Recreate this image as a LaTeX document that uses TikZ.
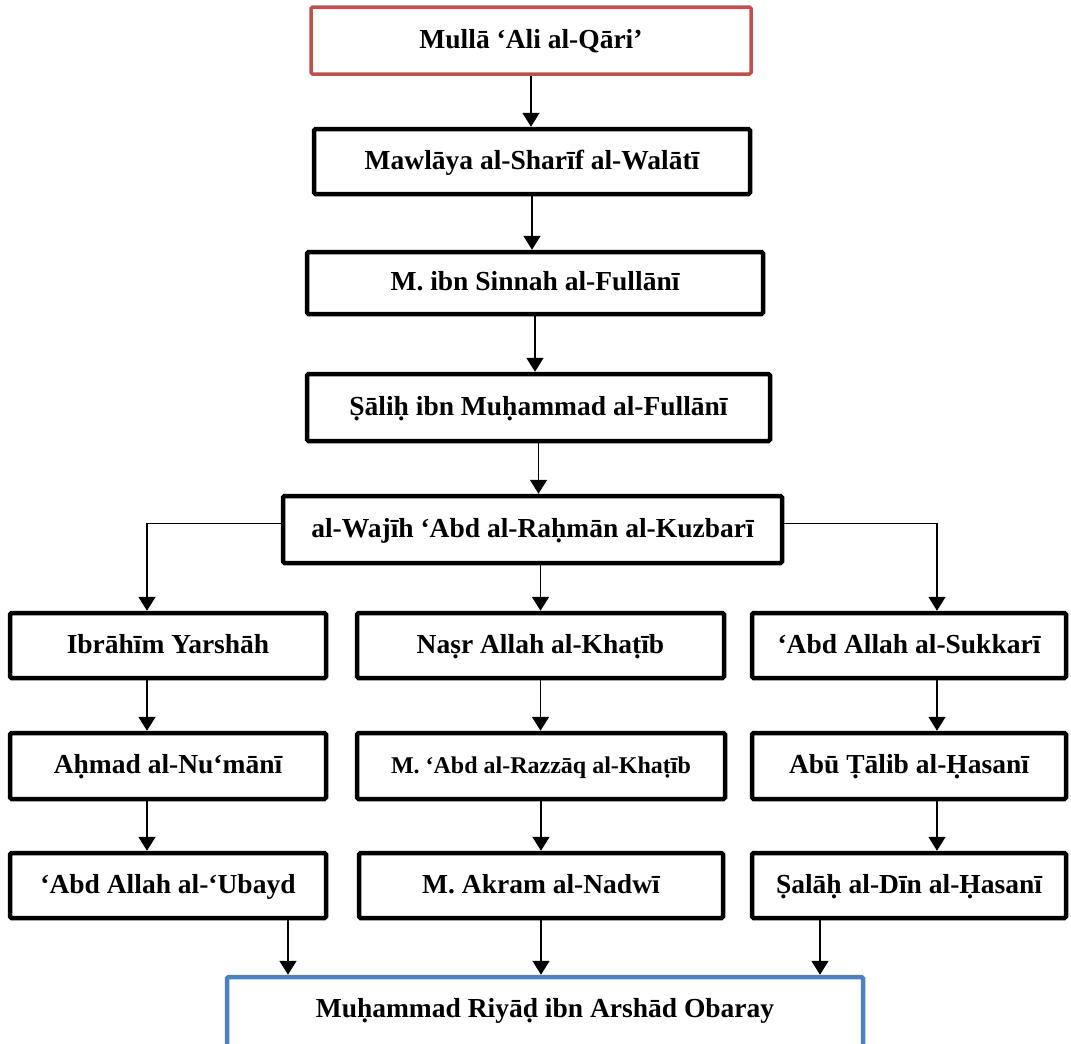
\documentclass[tikz,border=0pt]{standalone}
\usepackage{fontspec}
\setmainfont{Liberation Serif}
\usetikzlibrary{arrows.meta}
\definecolor{isnadred}{RGB}{192,80,77}
\definecolor{isnadblue}{RGB}{79,129,189}
\begin{document}
\begin{tikzpicture}[x=1pt, y=-1pt,
	shaykh/.style={draw, line width=4.5pt, rounded corners=1.5pt, inner sep=0pt,
		text height=24pt, text depth=9pt, font=\bfseries\fontsize{27.5}{30}\selectfont},
	link/.style={-{Triangle[width=17pt,length=14pt]}, line width=1.8pt}]
	\useasboundingbox (0,0) rectangle (1071,1044);

	% the chain down to al-Kuzbari
	\node[shaykh, draw=isnadred, line width=3.5pt, minimum width=440, minimum height=67] (mulla) at (531,40.5) {Mullā ‘Ali al-Qāri’};
	\node[shaykh, minimum width=436, minimum height=65] (mawlaya) at (532,161.5) {Mawlāya al-Sharīf al-Walātī};
	\node[shaykh, minimum width=456, minimum height=62] (sinnah) at (535,283) {M. ibn Sinnah al-Fullānī};
	\node[shaykh, minimum width=463, minimum height=67] (salih) at (538.5,407.5) {Ṣāliḥ ibn Muḥammad al-Fullānī};
	\node[shaykh, minimum width=499, minimum height=67] (kuzbari) at (532.5,529.5) {al-Wajīh ‘Abd al-Raḥmān al-Kuzbarī};

	% three branches
	\node[shaykh, minimum width=316, minimum height=65] (ibrahim) at (168,645.5) {Ibrāhīm Yarshāh};
	\node[shaykh, minimum width=367, minimum height=65] (nasr) at (540.5,645.5) {Naṣr Allah al-Khaṭīb};
	\node[shaykh, minimum width=314, minimum height=65] (sukkari) at (909,645.5) {‘Abd Allah al-Sukkarī};

	\node[shaykh, minimum width=316, minimum height=66] (ahmad) at (168,766) {Aḥmad al-Nu‘mānī};
	\node[shaykh, minimum width=368, minimum height=66, font=\bfseries\fontsize{24}{28}\selectfont] (razzaq) at (541,766) {M. ‘Abd al-Razzāq al-Khaṭīb};
	\node[shaykh, minimum width=314, minimum height=66] (talib) at (909,766) {Abū Ṭālib al-Ḥasanī};

	\node[shaykh, minimum width=316, minimum height=65] (ubayd) at (168,885.5) {‘Abd Allah al-‘Ubayd};
	\node[shaykh, minimum width=364, minimum height=65] (akram) at (541,885.5) {M. Akram al-Nadwī};
	\node[shaykh, minimum width=314, minimum height=65] (salah) at (909,885.5) {Ṣalāḥ al-Dīn al-Ḥasanī};

	\node[shaykh, draw=isnadblue, minimum width=636, minimum height=75, text depth=19pt] (riyad) at (545,1014.5) {Muḥammad Riyāḍ ibn Arshād Obaray};

	\coordinate (lft) at (147,0);
	\coordinate (rgt) at (937,0);
	\coordinate (inL) at (288,0);
	\coordinate (inR) at (820,0);

	\draw[link] (mulla.south) -- (mulla.south |- mawlaya.north);
	\draw[link] (mawlaya.south) -- (mawlaya.south |- sinnah.north);
	\draw[link] (sinnah.south) -- (sinnah.south |- salih.north);
	\draw[link] (salih.south) -- (salih.south |- kuzbari.north);

	\draw[link] ([yshift=6pt]kuzbari.west) -| (ibrahim.north -| lft);
	\draw[link] (nasr.north |- kuzbari.south) -- (nasr.north);
	\draw[link] ([yshift=6pt]kuzbari.east) -| (sukkari.north -| rgt);

	\draw[link] (ibrahim.south -| lft) -- (ahmad.north -| lft);
	\draw[link] (ahmad.south -| lft) -- (ubayd.north -| lft);
	\draw[link] (nasr.south) -- (nasr.south |- razzaq.north);
	\draw[link] (razzaq.south) -- (razzaq.south |- akram.north);
	\draw[link] (sukkari.south -| rgt) -- (talib.north -| rgt);
	\draw[link] (talib.south -| rgt) -- (salah.north -| rgt);

	\draw[link] (ubayd.south -| inL) -- (riyad.north -| inL);
	\draw[link] (akram.south) -- (akram.south |- riyad.north);
	\draw[link] (salah.south -| inR) -- (riyad.north -| inR);
\end{tikzpicture}
\end{document}
